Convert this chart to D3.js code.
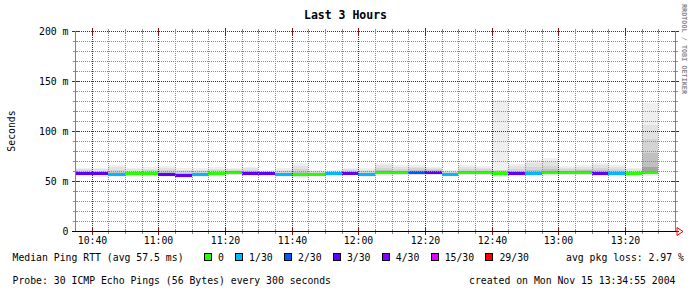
<!DOCTYPE html>
<html>
<head>
<meta charset="utf-8">
<script src="https://cdn.jsdelivr.net/npm/d3@7"></script>
<style>
  body { margin: 0; background: #fff; }
  svg text { font-family: "DejaVu Sans Mono", monospace; }
</style>
</head>
<body>
<div id="chart"></div>
<script>
// smokeping style "Last 3 Hours" graph, 5 minute steps
const title = 'Last 3 Hours';
const stepTimes = ['10:35','10:40','10:45','10:50','10:55','11:00','11:05','11:10','11:15','11:20',
                   '11:25','11:30','11:35','11:40','11:45','11:50','11:55','12:00','12:05','12:10',
                   '12:15','12:20','12:25','12:30','12:35','12:40','12:45','12:50','12:55','13:00',
                   '13:05','13:10','13:15','13:20','13:25'];
const medians = [58, 58, 57, 58, 58, 57, 56, 57, 57.5, 58.5,
                 57.5, 57.5, 57, 57, 57, 58, 58, 57, 58.5, 58.5,
                 58.5, 58.5, 57, 58.5, 58.5, 57.5, 57.5, 58, 58.5, 58.5,
                 58.5, 57.5, 58, 58, 59];
// lost pings out of 30 for each step
const losses = [3, 3, 1, 0, 0, 3, 3, 1, 0, 0,
                3, 3, 1, 0, 0, 1, 3, 1, 0, 0,
                2, 3, 1, 0, 0, 0, 3, 1, 0, 0,
                0, 3, 1, 0, 0];
// sorted ping samples (ms) per step, outer pairs -> lighter smoke
const pings = [
  [55, 56, 57, 57.5, 58, 58.5, 59.5, 61, 62, 63],
  [54, 55.5, 56.5, 57.5, 58, 58.5, 59.5, 60.5, 62, 63],
  [53.5, 55, 56, 56.5, 57, 57.5, 59, 61, 64, 66],
  [55, 56, 57, 57.5, 58, 58.5, 59, 60.5, 62, 63],
  [55, 56, 57, 57.5, 58, 58.5, 59.5, 61, 62.5, 64],
  [54, 55, 56, 56.5, 57, 57.5, 59, 61, 63, 65],
  [53, 54.5, 55, 55.5, 56, 56.5, 58, 60, 61.5, 63],
  [54.5, 55.5, 56, 56.5, 57, 57.5, 58.5, 60, 61.5, 63],
  [55, 56, 56.5, 57, 57.5, 58, 59, 61, 62.5, 64],
  [55.5, 56.5, 57.5, 58, 58.5, 59, 60, 61, 62, 63],
  [55, 56, 57, 57.5, 57.5, 58.5, 60, 61.5, 63, 64],
  [55, 56, 56.5, 57, 57.5, 58, 58.5, 59.5, 60.5, 61],
  [54.5, 55.5, 56, 56.5, 57, 57.5, 58.5, 60, 61.5, 63],
  [53, 54.5, 55.5, 56.5, 57, 57.5, 59, 62, 65, 68],
  [55, 55.5, 56, 56.5, 57, 57.5, 58, 59, 60, 61],
  [55.5, 56.5, 57, 57.5, 58, 58.5, 59, 59.5, 60.5, 61],
  [55.5, 56.5, 57, 57.5, 58, 58.5, 59.5, 61, 62, 63],
  [54.5, 55.5, 56, 56.5, 57, 57.5, 58.5, 60, 61.5, 63],
  [55, 56.5, 57.5, 58, 58.5, 59.5, 61, 63.5, 66, 68],
  [55.5, 56.5, 57.5, 58, 58.5, 59, 60.5, 62.5, 64.5, 66],
  [55.5, 56.5, 57.5, 58, 58.5, 59.5, 61, 63, 64.5, 66],
  [55.5, 56.5, 57.5, 58, 58.5, 59.5, 61, 62.5, 63.5, 64],
  [55, 55.5, 56, 56.5, 57, 57.5, 58, 59, 60, 61],
  [55.5, 56.5, 57.5, 58, 58.5, 59, 60.5, 62.5, 64.5, 66],
  [55.5, 56.5, 57.5, 58, 58.5, 59, 60.5, 62, 63.5, 65],
  [54, 55.5, 56.5, 57, 57.5, 58.5, 60, 61, 61.5, 131],
  [55, 56, 56.5, 57, 57.5, 58.5, 60, 62.5, 65, 67],
  [55.5, 56.5, 57, 57.5, 58, 59, 61, 64, 68, 71],
  [55, 56.5, 57.5, 58, 58.5, 60, 62, 65, 69, 73],
  [55.5, 56.5, 57.5, 58, 58.5, 59, 60.5, 62, 63.5, 65],
  [55.5, 56.5, 57.5, 58, 58.5, 59.5, 61, 62.5, 64.5, 66],
  [55, 56, 56.5, 57, 57.5, 59, 61, 63.5, 66, 68],
  [55.5, 56.5, 57, 57.5, 58, 59, 60.5, 62.5, 64.5, 66],
  [55.5, 56.5, 57, 57.5, 58, 58.5, 59.5, 60.5, 62, 63],
  [55, 56.5, 58, 58.5, 59, 64, 78, 92, 106, 128]
];
const lossLabels = ['0', '1/30', '2/30', '3/30', '4/30', '15/30', '29/30'];
const lossThresholds = [0, 1, 2, 3, 4, 15, 29];
const lossColors = ['#26ff00', '#00b8ff', '#0059ff', '#5e00ff', '#7e00ff', '#dd00ff', '#ff0000'];
const yTicks = [0, 50, 100, 150, 200];
const yTickLabels = ['0', '50 m', '100 m', '150 m', '200 m'];
const xTickLabels = ['10:40', '11:00', '11:20', '11:40', '12:00', '12:20', '12:40', '13:00', '13:20'];

const width = 691, height = 292;
const plotLeft = 75, plotTop = 31, plotW = 600, plotH = 200;
const gridColor = '#8c8c8c', mgridColor = '#8a1010';
const smokeShades = ['#efefef', '#e2e2e2', '#d4d4d4', '#c0c0c0', '#a4a4a4'];

const parseT = d3.timeParse('%H:%M');
const x = d3.scaleTime()
  .domain([parseT('10:35'), parseT('13:35')])
  .range([plotLeft, plotLeft + plotW]);
const y = d3.scaleLinear().domain([0, 200]).range([plotTop + plotH, plotTop]);
const px = v => Math.round(x(v));
const py = v => Math.round(y(v));

const svg = d3.select('#chart').append('svg')
  .attr('width', width)
  .attr('height', height)
  .style('display', 'block');
svg.append('rect').attr('width', width).attr('height', height).attr('fill', '#fff');

// title
svg.append('text')
  .attr('x', 345.5).attr('y', 19)
  .attr('text-anchor', 'middle')
  .attr('font-size', '11.5px')
  .attr('font-weight', 'bold')
  .text(title);

// smoke
const steps = stepTimes.map((t, i) => ({
  t0: parseT(t),
  t1: d3.timeMinute.offset(parseT(t), 5),
  med: medians[i],
  loss: losses[i],
  p: pings[i]
}));

const smoke = svg.append('g').attr('shape-rendering', 'crispEdges');
steps.forEach(s => {
  for (let k = 0; k < 5; k++) {
    const lo = s.p[k], hi = s.p[s.p.length - 1 - k];
    smoke.append('rect')
      .attr('x', px(s.t0))
      .attr('width', px(s.t1) - px(s.t0))
      .attr('y', py(hi))
      .attr('height', Math.max(1, py(lo) - py(hi)))
      .attr('fill', smokeShades[k]);
  }
});

// median bars, colour by loss
const lossColor = l => {
  let c = lossColors[0];
  lossThresholds.forEach((th, i) => { if (l >= th) c = lossColors[i]; });
  return c;
};
svg.append('g').attr('shape-rendering', 'crispEdges')
  .selectAll('rect')
  .data(steps)
  .enter()
  .append('rect')
  .attr('x', d => px(d.t0))
  .attr('width', d => px(d.t1) - px(d.t0))
  .attr('y', d => Math.round(y(d.med) - 1.5))
  .attr('height', 3)
  .attr('fill', d => lossColor(d.loss));

// grid
const grid = svg.append('g').attr('shape-rendering', 'crispEdges').attr('stroke-width', 1);
const minorY = d3.range(10, 200, 10).filter(v => v % 50 !== 0);
grid.selectAll('.hmin').data(minorY).enter().append('line')
  .attr('x1', plotLeft).attr('x2', plotLeft + plotW)
  .attr('y1', d => py(d) + 0.5).attr('y2', d => py(d) + 0.5)
  .attr('stroke', gridColor).attr('stroke-dasharray', '1,1');
const minorX = x.ticks(d3.timeMinute.every(5)).filter(d => d.getMinutes() % 20 !== 0 && +d > +x.domain()[0] && +d < +x.domain()[1]);
grid.selectAll('.vmin').data(minorX).enter().append('line')
  .attr('y1', plotTop).attr('y2', plotTop + plotH)
  .attr('x1', d => px(d) + 0.5).attr('x2', d => px(d) + 0.5)
  .attr('stroke', gridColor).attr('stroke-dasharray', '1,1');
grid.selectAll('.hmaj').data(yTicks.filter(v => v > 0)).enter().append('line')
  .attr('x1', plotLeft).attr('x2', plotLeft + plotW)
  .attr('y1', d => py(d) + 0.5).attr('y2', d => py(d) + 0.5)
  .attr('stroke', mgridColor).attr('stroke-dasharray', '1,1');
const majorX = xTickLabels.map(parseT);
grid.selectAll('.vmaj').data(majorX).enter().append('line')
  .attr('y1', plotTop).attr('y2', plotTop + plotH)
  .attr('x1', d => px(d) + 0.5).attr('x2', d => px(d) + 0.5)
  .attr('stroke', mgridColor).attr('stroke-dasharray', '1,1');

// ticks
grid.selectAll('.tyl').data(minorY).enter().append('line')
  .attr('x1', plotLeft - 2).attr('x2', plotLeft + 3)
  .attr('y1', d => py(d) + 0.5).attr('y2', d => py(d) + 0.5)
  .attr('stroke', gridColor);
grid.selectAll('.tyr').data(minorY).enter().append('line')
  .attr('x1', plotLeft + plotW - 2).attr('x2', plotLeft + plotW + 3)
  .attr('y1', d => py(d) + 0.5).attr('y2', d => py(d) + 0.5)
  .attr('stroke', gridColor);
grid.selectAll('.txb').data(minorX).enter().append('line')
  .attr('y1', plotTop + plotH - 2).attr('y2', plotTop + plotH + 3)
  .attr('x1', d => px(d) + 0.5).attr('x2', d => px(d) + 0.5)
  .attr('stroke', gridColor);
grid.selectAll('.txt').data(minorX).enter().append('line')
  .attr('y1', plotTop - 2).attr('y2', plotTop + 3)
  .attr('x1', d => px(d) + 0.5).attr('x2', d => px(d) + 0.5)
  .attr('stroke', gridColor);
grid.selectAll('.myl').data(yTicks).enter().append('line')
  .attr('x1', plotLeft - 3).attr('x2', plotLeft + 4)
  .attr('y1', d => py(d) + 0.5).attr('y2', d => py(d) + 0.5)
  .attr('stroke', mgridColor);
grid.selectAll('.myr').data(yTicks).enter().append('line')
  .attr('x1', plotLeft + plotW - 3).attr('x2', plotLeft + plotW + 4)
  .attr('y1', d => py(d) + 0.5).attr('y2', d => py(d) + 0.5)
  .attr('stroke', mgridColor);
grid.selectAll('.mxb').data(majorX).enter().append('line')
  .attr('y1', plotTop + plotH - 3).attr('y2', plotTop + plotH + 4)
  .attr('x1', d => px(d) + 0.5).attr('x2', d => px(d) + 0.5)
  .attr('stroke', mgridColor);
grid.selectAll('.mxt').data(majorX).enter().append('line')
  .attr('y1', plotTop - 3).attr('y2', plotTop + 4)
  .attr('x1', d => px(d) + 0.5).attr('x2', d => px(d) + 0.5)
  .attr('stroke', mgridColor);

// frame / axes
grid.append('line')
  .attr('x1', plotLeft + 0.5).attr('x2', plotLeft + 0.5)
  .attr('y1', plotTop).attr('y2', plotTop + plotH)
  .attr('stroke', '#808080');
grid.append('line')
  .attr('x1', plotLeft + plotW + 0.5).attr('x2', plotLeft + plotW + 0.5)
  .attr('y1', plotTop).attr('y2', plotTop + plotH)
  .attr('stroke', '#808080');
grid.append('line')
  .attr('x1', plotLeft - 3).attr('x2', plotLeft + plotW + 2)
  .attr('y1', plotTop + plotH + 0.5).attr('y2', plotTop + plotH + 0.5)
  .attr('stroke', '#000');
svg.append('path')
  .attr('d', `M${plotLeft + plotW + 2},${plotTop + plotH - 3.5}L${plotLeft + plotW + 8},${plotTop + plotH + 0.5}L${plotLeft + plotW + 2},${plotTop + plotH + 4.5}Z`)
  .attr('fill', 'none')
  .attr('stroke', '#ff0000');

// tick labels
const lab = svg.append('g').attr('font-size', '9.8px').attr('fill', '#000');
lab.selectAll('.yl').data(yTicks).enter().append('text')
  .attr('x', 68.5)
  .attr('y', d => py(d) + 4)
  .attr('text-anchor', 'end')
  .text((d, i) => yTickLabels[i]);
lab.selectAll('.xl').data(majorX).enter().append('text')
  .attr('x', d => px(d) + 0.5)
  .attr('y', 244)
  .attr('text-anchor', 'middle')
  .text((d, i) => xTickLabels[i]);

lab.append('text')
  .attr('transform', 'translate(15,131) rotate(-90)')
  .attr('text-anchor', 'middle')
  .text('Seconds');

svg.append('text')
  .attr('transform', 'translate(682,4) rotate(90)')
  .attr('font-size', '6.8px')
  .attr('font-weight', 'bold')
  .attr('fill', '#8c8c8c')
  .text('RRDTOOL / TOBI OETIKER');

// legend
const cw = 5.92;
lab.append('text').attr('x', 12.5).attr('y', 261).text('Median Ping RTT (avg 57.5 ms)');
let lx = 204;
lossLabels.forEach((l, i) => {
  svg.append('rect')
    .attr('x', lx + 0.5).attr('y', 253.5)
    .attr('width', 7).attr('height', 7)
    .attr('fill', lossColors[i])
    .attr('stroke', '#000')
    .attr('shape-rendering', 'crispEdges');
  lab.append('text').attr('x', lx + 14).attr('y', 261).text(l);
  lx += 14 + l.length * cw + 11.2;
});
lab.append('text').attr('x', 566).attr('y', 261).text('avg pkg loss: 2.97 %');
lab.append('text').attr('x', 12.5).attr('y', 284).text('Probe: 30 ICMP Echo Pings (56 Bytes) every 300 seconds');
lab.append('text').attr('x', 469).attr('y', 284).text('created on Mon Nov 15 13:34:55 2004');
</script>
</body>
</html>
